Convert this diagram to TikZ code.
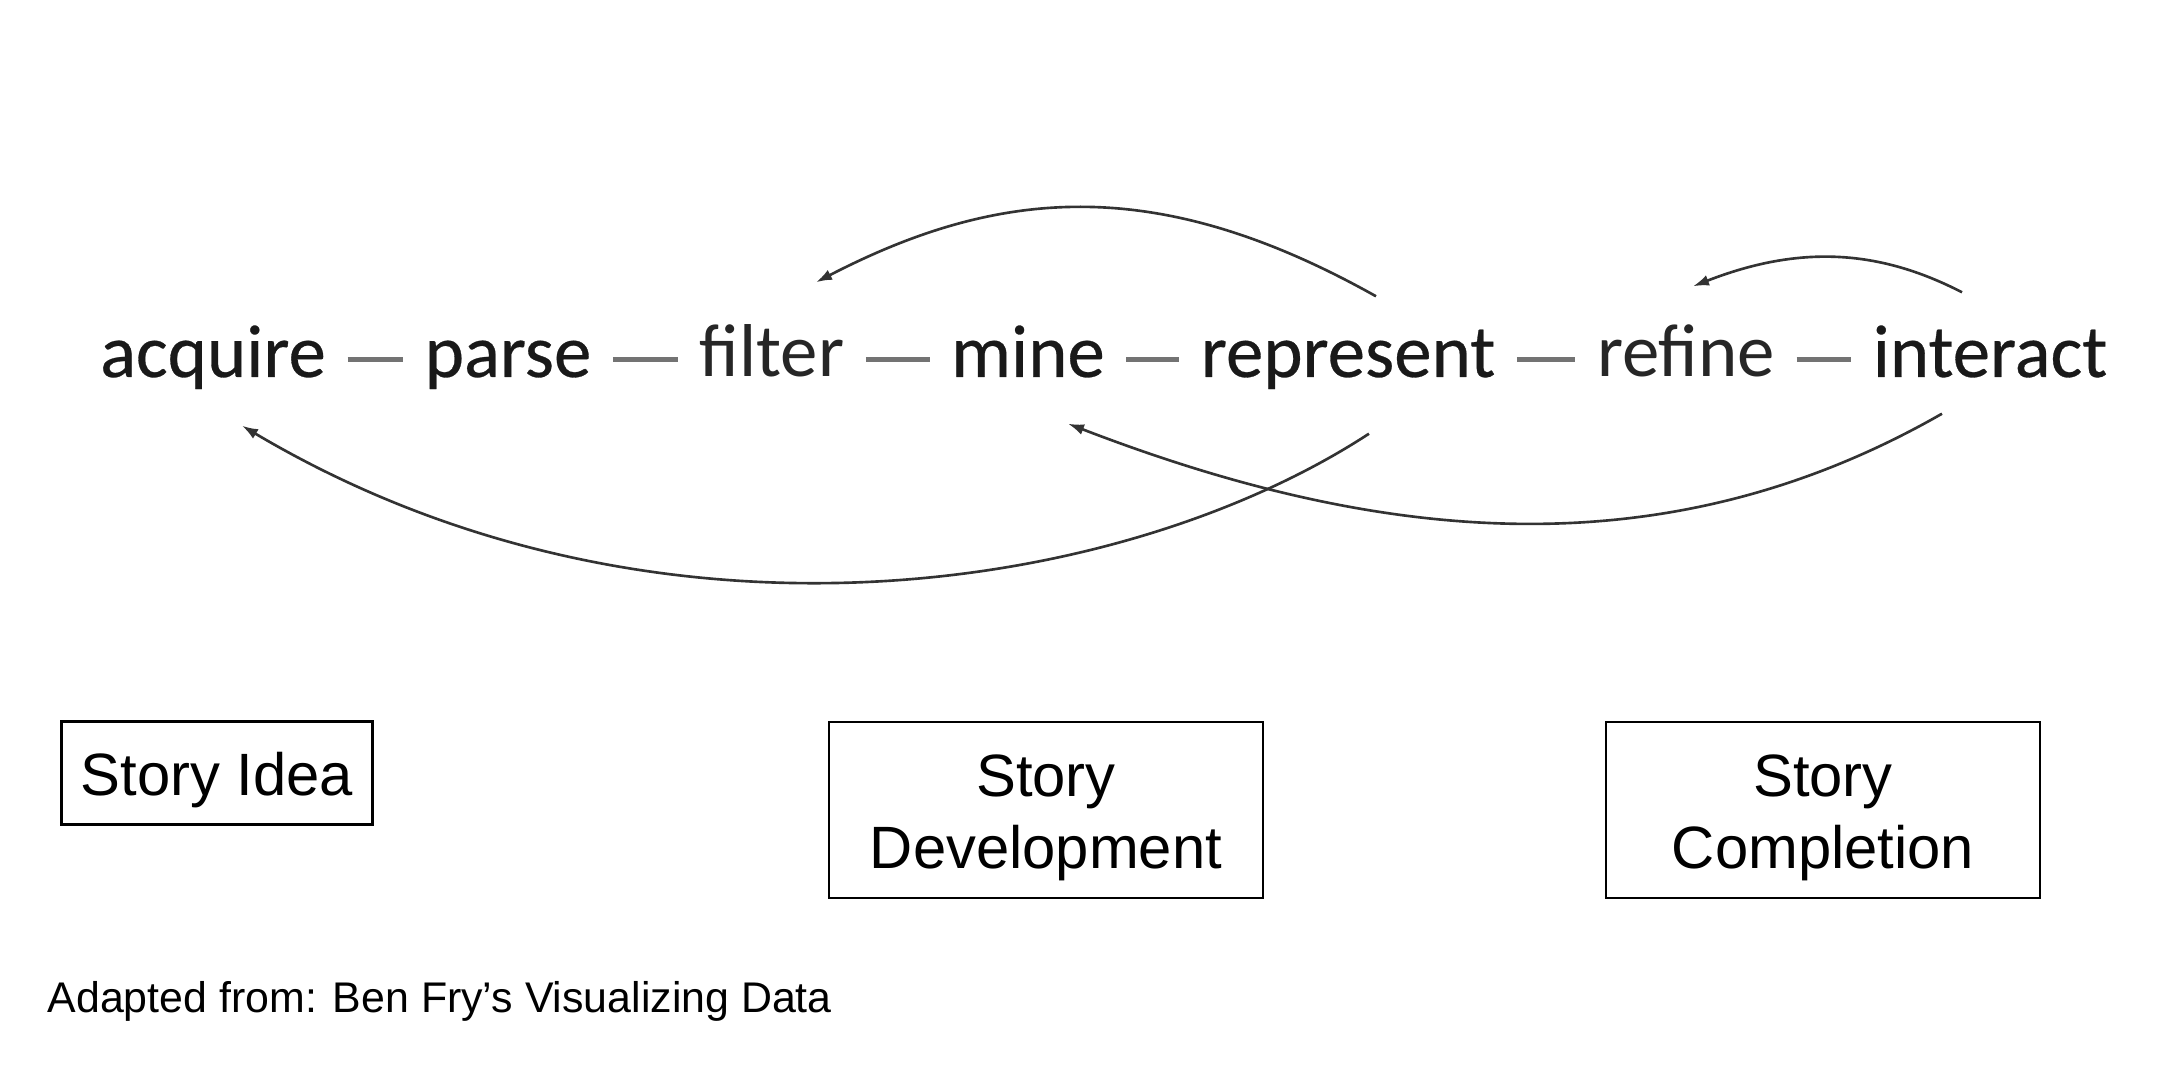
\documentclass[tikz,border=0pt]{standalone}
\usepackage{fontspec}
\usepackage{tikz}
\newfontfamily\wordfont[FakeBold=0.4]{Carlito}
\newfontfamily\lightwordfont{Carlito}
\newfontfamily\boxfont{Liberation Sans}
\usetikzlibrary{arrows.meta}
\newcommand{\boxstrut}{\rule{0pt}{0.96em}}
\tikzset{>={Latex[length=1.6mm,width=1.1mm]},
    stepword/.style={anchor=base, inner xsep=0pt, inner ysep=3mm, text height=5mm, text depth=1.5mm,
        font=\wordfont\fontsize{21.3pt}{25pt}\selectfont, text=black!90},
    lightword/.style={stepword, font=\lightwordfont\fontsize{21.3pt}{25pt}\selectfont, text=black!85},
    linkdash/.style={draw=black!55, line width=1.4pt, shorten <=2.1mm, shorten >=2.1mm},
    backarrow/.style={->, draw=black!80, line width=0.75pt},
    stagebox/.style={draw, line width=0.6pt, align=center, inner sep=0pt,
        font=\boxfont\fontsize{17pt}{20.5pt}\selectfont}}

\begin{document}
\begin{tikzpicture}[x=0.1mm, y=-0.1mm]
    \useasboundingbox (0,0) rectangle (2159,1074);
    % the seven steps
    \node[stepword] at (213,377) (acquire) {acquire};
    \node[stepword] at (508,377) (parse) {parse};
    \node[lightword] at (772,377) (filter) {filter};
    \node[stepword] at (1028,377) (mine) {mine};
    \node[stepword] at (1348,377) (represent) {represent};
    \node[lightword] at (1686,377) (refine) {refine};
    \node[stepword] at (1990,377) (interact) {interact};
    \foreach \a/\b in {acquire/parse, parse/filter, filter/mine, mine/represent, represent/refine, refine/interact}
        \draw[linkdash] (\a) -- (\b);
    % going back
    \draw[backarrow] ([xshift=2.8mm]represent.north) .. controls (1158,174) and (1000,187) .. ([xshift=4.4mm, yshift=1.4mm]filter.north);
    \draw[backarrow] ([xshift=-2.8mm, yshift=0.4mm]interact.north) .. controls (1878,249) and (1799,245) .. ([xshift=0.7mm, yshift=1mm]refine.north);
    \draw[backarrow] ([xshift=2.1mm, yshift=-1.1mm]represent.south) .. controls (1122,595) and (650,668) .. ([xshift=2.9mm, yshift=-0.3mm]acquire.south);
    \draw[backarrow] ([xshift=-4.8mm, yshift=0.9mm]interact.south) .. controls (1662,574) and (1375,542) .. ([xshift=4mm, yshift=-0.1mm]mine.south);
    % story stages
    \node[stagebox, minimum width=31.1mm, minimum height=10.3mm] at (217,773) (idea) {\boxstrut Story Idea};
    \node[stagebox, minimum width=43.4mm, minimum height=17.6mm] at (1046,810) (development) {\boxstrut Story\\Development};
    \node[stagebox, minimum width=43.4mm, minimum height=17.6mm] at (1823,810) (completion) {\boxstrut Story\\Completion};
    \node[anchor=base west, inner sep=0pt, font=\boxfont\fontsize{12.2pt}{14pt}\selectfont] at (47,1013) (source) {Adapted from: Ben Fry’s Visualizing Data};
\end{tikzpicture}
\end{document}
